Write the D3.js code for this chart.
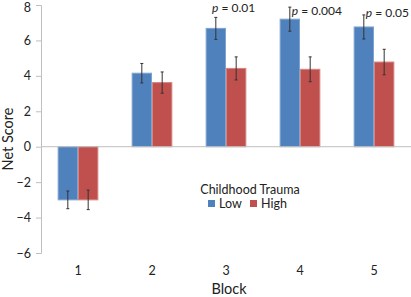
<!DOCTYPE html>
<html lang="en">
<head>
<meta charset="UTF-8" />
<title>Net Score by Block</title>
<style>
  body { margin: 0; background: #fff; }
  .chart { width: 411px; height: 297px; }
  text { font-family: Lato, "Open Sans", sans-serif; fill: #222; }
</style>
</head>
<body>
<div class="chart"></div>
<script src="https://d3js.org/d3.v7.min.js"></script>
<script>
// data
const blocks = ['1', '2', '3', '4', '5']
const groups = ['Low', 'High']
const lowValues = [-3.0, 4.15, 6.68, 7.2, 6.76]
const lowErrors = [0.5, 0.55, 0.62, 0.68, 0.68]
const highValues = [-3.0, 3.62, 4.42, 4.37, 4.78]
const highErrors = [0.55, 0.6, 0.65, 0.7, 0.72]
const pLabels = ['', '', '0.01', '0.004', '0.05']
const yTicks = [-6, -4, -2, 0, 2, 4, 6, 8]

const width = 411
const height = 297

const svg = d3.select('.chart')
  .append('svg')
  .attr('width', width)
  .attr('height', height)

const x = d3.scaleBand()
  .domain(blocks)
  .range([41, 411])
  .paddingInner(0.45)
  .paddingOuter(0.225)

const xSub = d3.scaleBand()
  .domain(groups)
  .range([0, x.bandwidth()])

const y = d3.scaleLinear()
  .domain([-6, 8])
  .range([253, 5])

const color = d3.scaleOrdinal()
  .domain(groups)
  .range(['#4F81BD', '#C0504D'])

const border = d3.scaleOrdinal()
  .domain(groups)
  .range(['#7FA3CF', '#D58480'])

// y axis
const yAxis = d3.axisLeft(y)
  .tickValues(yTicks)
  .tickSize(5)
  .tickPadding(5)

const yG = svg.append('g')
  .attr('transform', 'translate(41,0)')
  .call(yAxis)
yG.select('.domain').attr('stroke', '#BFBFBF')
yG.selectAll('.tick line').attr('stroke', '#BFBFBF')
yG.selectAll('.tick text')
  .style('font-size', '12.5px')
  .style('font-family', 'Lato, sans-serif')
  .attr('fill', '#222')
// top label sits at the edge, nudge it in a little
yG.selectAll('.tick text')
  .filter(d => d === 8)
  .attr('dy', '0.32em')
  .attr('y', 2)

// rows for bars
const rows = blocks.map((b, i) => ({
  block: b,
  bars: [
    { key: 'Low', value: lowValues[i], err: lowErrors[i] },
    { key: 'High', value: highValues[i], err: highErrors[i] }
  ]
}))

const barG = svg.append('g')
  .selectAll('g')
  .data(rows)
  .join('g')
  .attr('transform', d => `translate(${x(d.block)},0)`)

barG.selectAll('rect')
  .data(d => d.bars)
  .join('rect')
  .attr('x', d => xSub(d.key) + 0.5)
  .attr('y', d => y(Math.max(0, d.value)))
  .attr('width', xSub.bandwidth() - 1)
  .attr('height', d => Math.abs(y(d.value) - y(0)))
  .attr('fill', d => color(d.key))
  .attr('stroke', d => border(d.key))
  .attr('stroke-width', 1)

// zero line
svg.append('line')
  .attr('x1', 41)
  .attr('x2', 411)
  .attr('y1', y(0))
  .attr('y2', y(0))
  .attr('stroke', '#BFBFBF')
  .attr('stroke-width', 1)

// error bars
const errG = barG.selectAll('g.err')
  .data(d => d.bars)
  .join('g')
  .attr('class', 'err')
  .attr('transform', d => `translate(${xSub(d.key) + xSub.bandwidth() / 2},0)`)

errG.append('line')
  .attr('y1', d => y(d.value + d.err))
  .attr('y2', d => y(d.value - d.err))
  .attr('stroke', '#333')
  .attr('stroke-width', 1)

errG.selectAll('line.cap')
  .data(d => [d.value + d.err, d.value - d.err])
  .join('line')
  .attr('class', 'cap')
  .attr('x1', -1.5)
  .attr('x2', 1.5)
  .attr('y1', v => y(v))
  .attr('y2', v => y(v))
  .attr('stroke', '#333')
  .attr('stroke-width', 1)

// p-value labels
const pText = svg.append('g')
  .selectAll('text')
  .data(rows.map((r, i) => ({ block: r.block, p: pLabels[i], top: lowValues[i] + lowErrors[i] })).filter(d => d.p))
  .join('text')
  .attr('x', d => x(d.block) + xSub('Low') + xSub.bandwidth() / 2 + 2)
  .attr('y', d => Math.max(y(d.top) + 2, 15))
  .style('font-size', '12px')

pText.each(function (d, i) {
  const t = d3.select(this)
  if (i === 0) {
    t.attr('x', x(d.block) + x.bandwidth() / 2 - 14).attr('y', 12)
  }
  t.append('tspan').style('font-style', 'italic').text('p')
  t.append('tspan').text(' = ' + d.p)
})

// x labels
svg.append('g')
  .selectAll('text')
  .data(blocks)
  .join('text')
  .attr('x', d => x(d) + x.bandwidth() / 2)
  .attr('y', 275)
  .attr('text-anchor', 'middle')
  .style('font-size', '12.5px')
  .text(d => d)

svg.append('text')
  .attr('x', 229)
  .attr('y', 294)
  .attr('text-anchor', 'middle')
  .style('font-size', '14.5px')
  .text('Block')

svg.append('text')
  .attr('transform', 'translate(13,139) rotate(-90)')
  .attr('text-anchor', 'middle')
  .style('font-size', '14.5px')
  .text('Net Score')

// legend
svg.append('text')
  .attr('x', 250)
  .attr('y', 194)
  .attr('text-anchor', 'middle')
  .style('font-size', '12.5px')
  .text('Childhood Trauma')

const legendX = d3.scaleOrdinal()
  .domain(groups)
  .range([208, 250])

const legend = svg.append('g')
  .selectAll('g')
  .data(groups)
  .join('g')
  .attr('transform', d => `translate(${legendX(d)},200)`)

legend.append('rect')
  .attr('width', 7)
  .attr('height', 7)
  .attr('fill', d => color(d))

legend.append('text')
  .attr('x', 11)
  .attr('y', 8)
  .style('font-size', '12.5px')
  .text(d => d)
</script>
</body>
</html>
